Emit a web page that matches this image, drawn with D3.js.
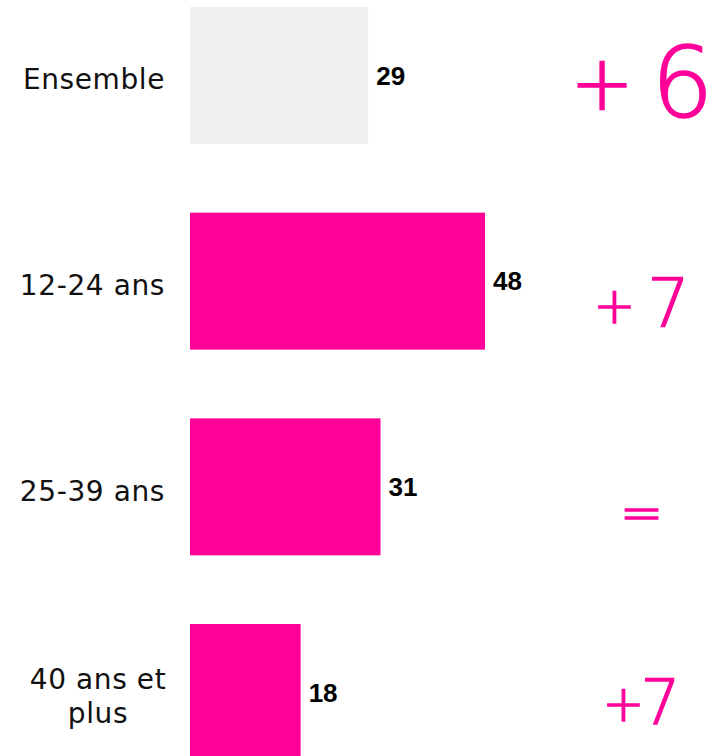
<!DOCTYPE html>
<html>
<head>
<meta charset="utf-8">
<script src="https://cdn.jsdelivr.net/npm/d3@7"></script>
<style>
  html, body { margin: 0; padding: 0; background: #ffffff; }
  svg { display: block; }
</style>
</head>
<body>
<svg id="chart" width="714" height="756"></svg>
<script>
// ---- data ----
const categories = ["Ensemble", "12-24 ans", "25-39 ans", "40 ans et plus"];
const categoryLines = [["Ensemble"], ["12-24 ans"], ["25-39 ans"], ["40 ans et", "plus"]];
const values = [29, 48, 31, 18];
const changes = ["+ 6", "+ 7", "=", "+7"];

// ---- layout / style ----
const pink = "#ff0099";
const grey = "#efefef";
// sign: ink centre x, centre offset from band centre, size; num: centre x, baseline offset, size
const changeStyle = [
  { sx: 602,   sdy: 10.5, ss: 76, nx: 682.5, ndy: 41.5, ns: 98, sw: 1.6 },
  { sx: 614.5, sdy: 26.5, ss: 50, nx: 668.5, ndy: 46,   ns: 67, sw: 1.3 },
  { sx: 641.5, sdy: 27.5, ss: 52, nx: 0,     ndy: 0,    ns: 0,  sw: 1.3 },
  { sx: 623.5, sdy: 12.5, ss: 50, nx: 660.5, ndy: 31.5, ns: 63, sw: 1.3 }
];

const svg = d3.select("#chart");

const x = d3.scaleLinear().domain([0, 48]).range([190, 485]);
const y = d3.scaleBand().domain(categories).range([7, 761]).paddingInner(0.334).paddingOuter(0);
const mid = c => y(c) + y.bandwidth() / 2;

// bars
svg.selectAll("rect.bar")
  .data(values)
  .join("rect")
  .attr("class", "bar")
  .attr("x", x(0))
  .attr("y", (d, i) => y(categories[i]))
  .attr("width", d => x(d) - x(0))
  .attr("height", y.bandwidth())
  .attr("fill", (d, i) => i === 0 ? grey : pink);

// value labels
svg.selectAll("text.val")
  .data(values)
  .join("text")
  .attr("class", "val")
  .attr("x", d => x(d) + 8)
  .attr("y", (d, i) => mid(categories[i]))
  .attr("dy", "0.35em")
  .attr("font-family", "'Liberation Sans', Arial, sans-serif")
  .attr("font-weight", "bold")
  .attr("font-size", 26)
  .attr("fill", "#000")
  .text(d => d);

// category labels
svg.selectAll("g.cat")
  .data(categories)
  .join("g")
  .attr("class", "cat")
  .each(function (c, i) {
    const lines = categoryLines[i];
    const cy = mid(c) + 4;
    const g = d3.select(this);
    const multi = lines.length > 1;
    lines.forEach((ln, k) => {
      g.append("text")
        .attr("x", multi ? 98 : 165)
        .attr("y", cy + (k - (lines.length - 1) / 2) * 34)
        .attr("dy", "0.35em")
        .attr("text-anchor", multi ? "middle" : "end")
        .attr("font-family", "'DejaVu Sans', sans-serif")
        .attr("font-size", 28)
        .attr("letter-spacing", 0.6)
        .attr("fill", "#111")
        .text(ln);
    });
  });

// change labels: one text each, sign and number as separately placed tspans
svg.selectAll("text.chg")
  .data(changes)
  .join("text")
  .attr("class", "chg")
  .attr("font-family", "'DejaVu Sans', sans-serif")
  .attr("font-weight", 200)
  .attr("text-anchor", "middle")
  .attr("fill", pink)
  .attr("stroke", pink)
  .attr("stroke-width", (d, i) => changeStyle[i].sw)
  .each(function (d, i) {
    const st = changeStyle[i];
    const m = d.match(/^([+=])(\s*)(\d*)$/);
    const sign = m ? m[1] : d;
    const gap = m ? m[2] : "";
    const num = m ? m[3] : "";
    const t = d3.select(this);
    const c = mid(categories[i]);
    // a trailing space widens the chunk; shift by half its advance (0.318em)
    const shift = gap ? 0.318 * st.ss / 2 : 0;
    t.append("tspan")
      .attr("x", st.sx + shift)
      .attr("y", c + st.sdy + 0.31 * st.ss)
      .attr("font-size", st.ss)
      .text(sign + gap);
    if (num) {
      t.append("tspan")
        .attr("x", st.nx)
        .attr("y", c + st.ndy)
        .attr("font-size", st.ns)
        .text(num);
    }
  });
</script>
</body>
</html>
